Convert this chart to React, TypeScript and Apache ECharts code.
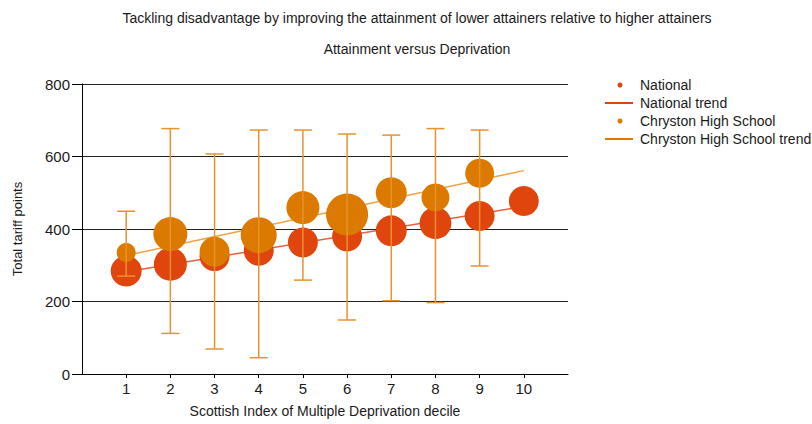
import React, { useEffect, useRef } from "react";
import * as echarts from "echarts";

const deciles = [1, 2, 3, 4, 5, 6, 7, 8, 9, 10];
const nationalValues = [284, 303, 325, 340, 363, 379, 395, 416, 436, 477];
const nationalBubble = [31, 33, 30, 30, 30, 30, 31, 32, 30, 30];
const chrystonDeciles = [1, 2, 3, 4, 5, 6, 7, 8, 9];
const chrystonValues = [335, 386, 337, 383, 459, 440, 500, 487, 554];
const chrystonBubble = [19, 34, 30, 36, 33, 42, 31, 28, 29];
const chrystonHigh = [449, 677, 607, 673, 673, 662, 659, 677, 673];
const chrystonLow = [270, 112, 69, 45, 259, 149, 202, 197, 298];
const trendDeciles = [1, 10];
const nationalTrend = [282, 462];
const chrystonTrend = [327, 561];

const titleMain = "Tackling disadvantage by improving the attainment of lower attainers relative to higher attainers";
const titleSub = "Attainment versus Deprivation";
const legendNames = ["National", "National trend", "Chryston High School", "Chryston High School trend"];

const FONT = "'Liberation Sans', Arial, sans-serif";
const RED = "#E0450E";
const ORANGE = "#DC7A00";
const BAR = "#E8922E";
const RED_TREND = "#E8603C";
const ORANGE_TREND = "#F0A040";
const TEXT = "#1a1a1a";

export default function App() {
  const ref = useRef<HTMLDivElement>(null);
  useEffect(() => {
    if (!ref.current) return;
    const chart = echarts.init(ref.current, null, { renderer: "svg" });
    const legendRows = [85, 103, 121, 139];
    const legendGraphics: any[] = [];
    legendNames.forEach((name, i) => {
      const y = legendRows[i];
      const color = i < 2 ? RED : ORANGE;
      if (i % 2 === 0) {
        legendGraphics.push({ type: "circle", shape: { cx: 620, cy: y, r: 2.5 }, style: { fill: color } });
      } else {
        legendGraphics.push({ type: "line", shape: { x1: 605, y1: y, x2: 633, y2: y }, style: { stroke: color, lineWidth: 2 } });
      }
      legendGraphics.push({
        type: "text", x: 640, y,
        style: { text: name, fill: TEXT, font: `14px ${FONT}`, textVerticalAlign: "middle", textAlign: "left" },
      });
    });

    chart.setOption({
      animation: false,
      backgroundColor: "#fff",
      textStyle: { fontFamily: FONT },
      grid: { left: 82, right: 244, top: 84, bottom: 50, containLabel: false },
      xAxis: {
        type: "value", min: 0, max: 11, interval: 1,
        name: "Scottish Index of Multiple Deprivation decile",
        nameLocation: "middle", nameGap: 30,
        nameTextStyle: { fontSize: 14, color: TEXT, fontFamily: FONT },
        axisLine: { show: true, onZero: false, lineStyle: { color: "#000", width: 1 } },
        axisTick: { show: true, length: 4, customValues: deciles, lineStyle: { color: "#000" } },
        axisLabel: { customValues: deciles, fontSize: 15, color: TEXT, margin: 7, fontFamily: FONT },
        splitLine: { show: false },
      },
      yAxis: {
        type: "value", min: 0, max: 800, interval: 200,
        name: "Total tariff points", nameLocation: "middle", nameGap: 58, nameRotate: 90,
        nameTextStyle: { fontSize: 13, color: TEXT, fontFamily: FONT },
        axisLine: { show: true, lineStyle: { color: "#000", width: 1 } },
        axisTick: { show: true, length: 10, lineStyle: { color: "#000" } },
        axisLabel: { fontSize: 15, color: TEXT, margin: 12, fontFamily: FONT },
        splitLine: { show: true, lineStyle: { color: "#222", width: 1 } },
      },
      graphic: [
        { type: "text", x: 417, y: 18, style: { text: titleMain, fill: TEXT, font: `14px ${FONT}`, textAlign: "center", textVerticalAlign: "middle" } },
        { type: "text", x: 417, y: 49, style: { text: titleSub, fill: TEXT, font: `14px ${FONT}`, textAlign: "center", textVerticalAlign: "middle" } },
        ...legendGraphics,
      ],
      series: [
        {
          name: "National trend", type: "line", z: 1, symbol: "none",
          data: trendDeciles.map((d, i) => [d, nationalTrend[i]]),
          lineStyle: { color: RED_TREND, width: 1.5 },
        },
        {
          name: "Chryston High School trend", type: "line", z: 1, symbol: "none",
          data: trendDeciles.map((d, i) => [d, chrystonTrend[i]]),
          lineStyle: { color: ORANGE_TREND, width: 1.5 },
        },
        {
          name: "National", type: "scatter", z: 2,
          data: deciles.map((d, i) => ({ value: [d, nationalValues[i]], symbolSize: nationalBubble[i] })),
          itemStyle: { color: RED, opacity: 1 },
        },
        {
          name: "Chryston High School", type: "scatter", z: 3,
          data: chrystonDeciles.map((d, i) => ({ value: [d, chrystonValues[i]], symbolSize: chrystonBubble[i] })),
          itemStyle: { color: ORANGE, opacity: 1 },
        },
        {
          name: "Chryston range", type: "custom", z: 4,
          data: chrystonDeciles.map((d, i) => [d, chrystonLow[i], chrystonHigh[i]]),
          encode: { x: 0, y: [1, 2] },
          renderItem: (params: any, api: any) => {
            const x = api.value(0);
            const top = api.coord([x, api.value(2)]);
            const bot = api.coord([x, api.value(1)]);
            const hw = 9;
            const style = { stroke: BAR, lineWidth: 1.5, fill: "none" };
            return {
              type: "group",
              children: [
                { type: "line", shape: { x1: top[0], y1: top[1], x2: bot[0], y2: bot[1] }, style },
                { type: "line", shape: { x1: top[0] - hw, y1: top[1], x2: top[0] + hw, y2: top[1] }, style },
                { type: "line", shape: { x1: bot[0] - hw, y1: bot[1], x2: bot[0] + hw, y2: bot[1] }, style },
              ],
            };
          },
        },
      ],
    });
    return () => chart.dispose();
  }, []);
  return <div ref={ref} style={{ position: "fixed", left: 0, top: 0, width: 812, height: 424 }} />;
}
